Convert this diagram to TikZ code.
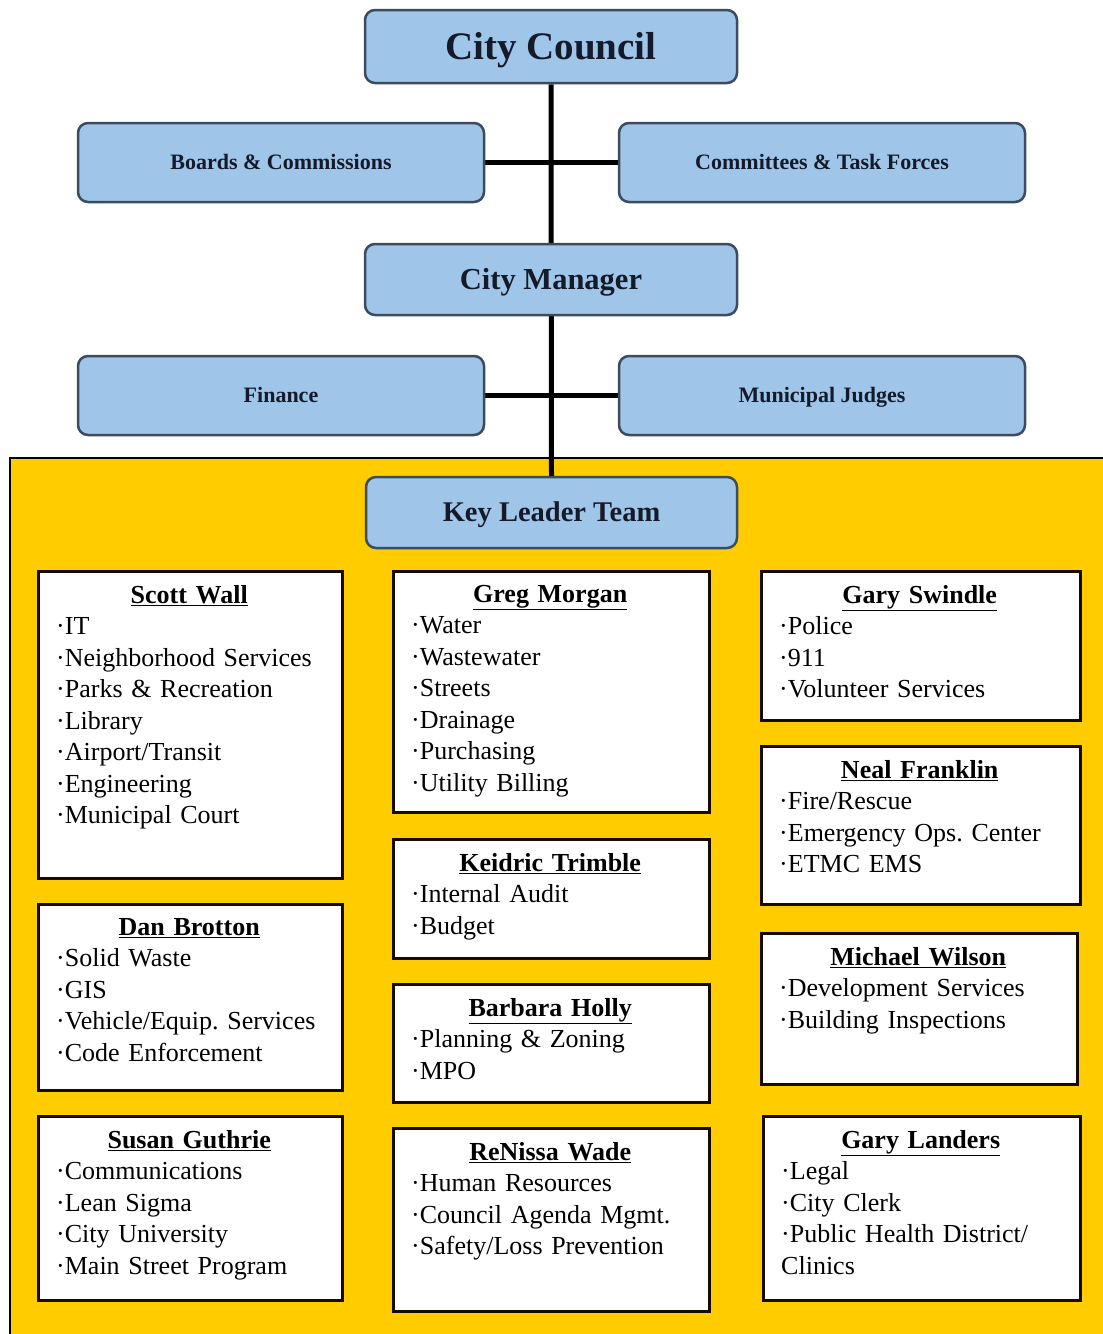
\documentclass[tikz,border=0pt]{standalone}
\usepackage{fontspec}
\setmainfont{Liberation Serif}
\frenchspacing
\pgfdeclarelayer{back}
\pgfdeclarelayer{mid}
\pgfsetlayers{back,mid,main}
\definecolor{boxblue}{HTML}{9FC5E8}
\definecolor{boxedge}{HTML}{3C4B5E}
\definecolor{gold}{HTML}{FFCC00}
\definecolor{ink}{HTML}{141A2A}
\tikzset{
  bluebox/.style={draw=boxedge, line width=2.5pt, fill=boxblue, rounded corners=10pt, text=ink, inner sep=0pt, text depth=0pt},
  bsmall/.style={font=\bfseries\fontsize{22}{26}\selectfont, text height=14.6pt},
  whitebox/.style={draw={rgb,255:red,25;green,10;blue,0}, line width=3pt, fill=white, anchor=north west, inner sep=0pt},
  wtext/.style={anchor=north west, align=left, inner sep=0pt, text=black, font=\fontsize{26}{31.5}\selectfont},
  link/.style={line width=5pt, draw=black}
}
\newcommand{\hd}[1]{\makebox[\linewidth][c]{\bfseries\underline{#1}}}
\newcommand{\bu}{·}
\begin{document}
\begin{tikzpicture}[x=1pt,y=-1pt]
\useasboundingbox (0,0) rectangle (1103,1334);
\begin{pgfonlayer}{back}
\fill[white] (0,0) rectangle (1103,1334);
\draw[fill=gold, draw=black, line width=2pt] (10,458) rectangle (1115,1345);
\end{pgfonlayer}

% blue boxes
\node[bluebox, minimum width=372pt, minimum height=73pt, font=\bfseries\fontsize{39}{44}\selectfont, text height=25.8pt] (cc) at (551,46.5) {City Council};
\node[bluebox, bsmall, minimum width=406pt, minimum height=79pt] (bc) at (281,162.5) {Boards \& Commissions};
\node[bluebox, bsmall, minimum width=406pt, minimum height=79pt] (ctf) at (822,162.5) {Committees \& Task Forces};
\node[bluebox, minimum width=372pt, minimum height=71pt, font=\bfseries\fontsize{30.5}{35}\selectfont, text height=20.2pt] (cm) at (551,279.5) {City Manager};
\node[bluebox, bsmall, minimum width=406pt, minimum height=79pt] (fin) at (281,395.5) {Finance};
\node[bluebox, bsmall, minimum width=406pt, minimum height=79pt] (mj) at (822,395.5) {Municipal Judges};
\node[bluebox, minimum width=371pt, minimum height=71pt, font=\bfseries\fontsize{28.5}{33}\selectfont, text height=18.9pt] (klt) at (551.5,512.5) {Key Leader Team};

% connectors
\begin{pgfonlayer}{mid}
\draw[link] (cc.south) -- (klt.north);
\draw[link] (bc.east) -- (ctf.west);
\draw[link] (fin.east) -- (mj.west);
\end{pgfonlayer}

% white boxes
\node[whitebox, minimum width=304pt, minimum height=307pt] (sw) at (37,570) {};
\node[wtext, text width=266pt] (swt) at ([xshift=19pt,yshift=-15pt]sw.north west) {\hd{Scott Wall}\\
\bu IT\\ \bu Neighborhood Services\\ \bu Parks \& Recreation\\ \bu Library\\ \bu Airport/Transit\\ \bu Engineering\\ \bu Municipal Court};

\node[whitebox, minimum width=316pt, minimum height=241pt] (gm) at (392,570) {};
\node[wtext, text width=278pt] (gmt) at ([xshift=19pt,yshift=-15pt]gm.north west) {\hd{Greg Morgan}\\
\bu Water\\ \bu Wastewater\\ \bu Streets\\ \bu Drainage\\ \bu Purchasing\\ \bu Utility Billing};

\node[whitebox, minimum width=319pt, minimum height=149pt] (gs) at (760,570) {};
\node[wtext, text width=281pt] (gst) at ([xshift=19pt,yshift=-15pt]gs.north west) {\hd{Gary Swindle}\\
\bu Police\\ \bu 911\\ \bu Volunteer Services};

\node[whitebox, minimum width=319pt, minimum height=158pt] (nf) at (760,745) {};
\node[wtext, text width=281pt] (nft) at ([xshift=19pt,yshift=-15pt]nf.north west) {\hd{Neal Franklin}\\
\bu Fire/Rescue\\ \bu Emergency Ops. Center\\ \bu ETMC EMS};

\node[whitebox, minimum width=316pt, minimum height=119pt] (kt) at (392,838) {};
\node[wtext, text width=278pt] (ktt) at ([xshift=19pt,yshift=-15pt]kt.north west) {\hd{Keidric Trimble}\\
\bu Internal Audit\\ \bu Budget};

\node[whitebox, minimum width=304pt, minimum height=186pt] (db) at (37,903) {};
\node[wtext, text width=266pt] (dbt) at ([xshift=19pt,yshift=-15pt]db.north west) {\hd{Dan Brotton}\\
\bu Solid Waste\\ \bu GIS\\ \bu Vehicle/Equip. Services\\ \bu Code Enforcement};

\node[whitebox, minimum width=316pt, minimum height=151pt] (mw) at (760,932) {};
\node[wtext, text width=278pt] (mwt) at ([xshift=19pt,yshift=-15pt]mw.north west) {\hd{Michael Wilson}\\
\bu Development Services\\ \bu Building Inspections};

\node[whitebox, minimum width=316pt, minimum height=118pt] (bh) at (392,983) {};
\node[wtext, text width=278pt] (bht) at ([xshift=19pt,yshift=-15pt]bh.north west) {\hd{Barbara Holly}\\
\bu Planning \& Zoning\\ \bu MPO};

\node[whitebox, minimum width=304pt, minimum height=184pt] (sg) at (37,1115) {};
\node[wtext, text width=266pt] (sgt) at ([xshift=19pt,yshift=-15pt]sg.north west) {\hd{Susan Guthrie}\\
\bu Communications\\ \bu Lean Sigma\\ \bu City University\\ \bu Main Street Program};

\node[whitebox, minimum width=316pt, minimum height=183pt] (rw) at (392,1127) {};
\node[wtext, text width=278pt] (rwt) at ([xshift=19pt,yshift=-15pt]rw.north west) {\hd{ReNissa Wade}\\
\bu Human Resources\\ \bu Council Agenda Mgmt.\\ \bu Safety/Loss Prevention};

\node[whitebox, minimum width=317pt, minimum height=184pt] (gl) at (762,1115) {};
\node[wtext, text width=279pt] (glt) at ([xshift=19pt,yshift=-15pt]gl.north west) {\hd{Gary Landers}\\
\bu Legal\\ \bu City Clerk\\ \bu Public Health District/\\ Clinics};
\end{tikzpicture}
\end{document}
